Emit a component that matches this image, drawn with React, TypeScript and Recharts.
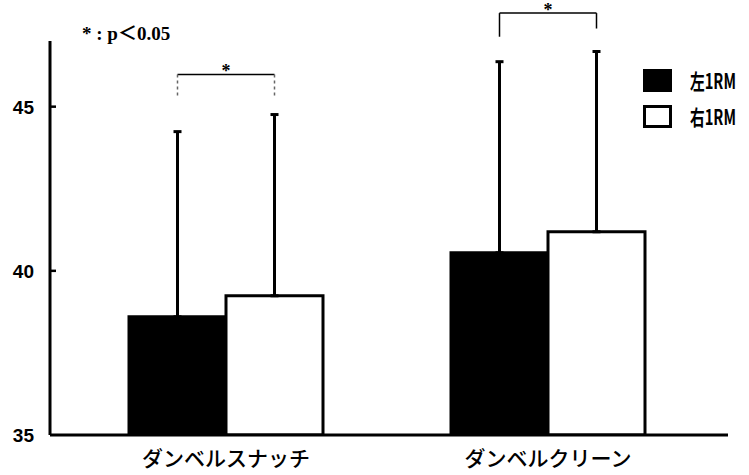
import { Bar, BarChart, ErrorBar, XAxis, YAxis } from "recharts";

const categories = ["ダンベルスナッチ", "ダンベルクリーン"];
const leftRM = [38.6, 40.55];
const rightRM = [39.24, 41.19];
const leftSD = [5.64, 5.82];
const rightSD = [5.52, 5.49];
const yTicks = [35, 40, 45];

// significance brackets: bar height, leg ends, dashed legs or not
const sigTop = [45.98, 47.85];
const sigLegLeft = [45.27, 47.13];
const sigLegRight = [45.27, 47.38];
const sigDashed = [true, false];

const seriesNames = ["左1RM", "右1RM"];
const Y_MIN = 35;
const Y_AXIS_W = 50;

const data = categories.map((name, i) => ({
	name,
	left: leftRM[i],
	right: rightRM[i],
	leftErr: [0, leftSD[i]],
	rightErr: [0, rightSD[i]],
}));

const YTick = (props: any) => {
	const { x, y, payload } = props;
	return (
		<text
			x={x}
			y={y}
			dy="0.36em"
			textAnchor="end"
			fontFamily="Liberation Sans, Arial, sans-serif"
			fontWeight="bold"
			fontSize={19}
			fill="#000"
		>
			{payload.value}
		</text>
	);
};

const XTick = (props: any) => {
	const { x, y, payload } = props;
	return (
		<text
			x={x}
			y={y}
			dy="0.8em"
			textAnchor="middle"
			fontFamily="Noto Sans CJK JP, sans-serif"
			fontWeight={500}
			fontSize={21}
			fill="#000"
		>
			{payload.value}
		</text>
	);
};

// bracket drawn from the right bar's geometry, scaled by its own value;
// the first one also adds the inward tick marks on the value axis
const renderBracket = (props: any) => {
	const vb = props.viewBox ?? props;
	const { x, y, width, height } = vb;
	const i = props.index;
	if (i == null || x == null) return null;
	const unit = height / (rightRM[i] - Y_MIN);
	const base = y + height;
	const toY = (v: number) => base - (v - Y_MIN) * unit;
	const xr = x + width / 2;
	const xl = xr - width;
	const top = toY(sigTop[i]);
	const dash = sigDashed[i] ? "3 3" : undefined;
	const legColor = sigDashed[i] ? "#666" : "#000";
	return (
		<g key={`sig-${i}`}>
			{i === 0 &&
				yTicks.slice(1).map((t) => (
					<path key={t} d={`M${Y_AXIS_W},${toY(t)}h6`} stroke="#000" strokeWidth={2.5} fill="none" />
				))}
			<line x1={xl} x2={xr} y1={top} y2={top} stroke="#000" strokeWidth={1.5} />
			<line x1={xl} x2={xl} y1={top} y2={toY(sigLegLeft[i])} stroke={legColor} strokeWidth={1.5} strokeDasharray={dash} />
			<line x1={xr} x2={xr} y1={top} y2={toY(sigLegRight[i])} stroke={legColor} strokeWidth={1.5} strokeDasharray={dash} />
			<text
				x={(xl + xr) / 2}
				y={top + 3}
				textAnchor="middle"
				fontFamily="Liberation Serif, serif"
				fontWeight="bold"
				fontSize={18}
				fill="#000"
			>
				*
			</text>
		</g>
	);
};

const LegendBox = () => (
	<div
		style={{
			position: "absolute",
			left: 643,
			top: 69,
			display: "flex",
			flexDirection: "column",
			gap: 13,
			whiteSpace: "nowrap",
		}}
	>
		{seriesNames.map((name, i) => (
			<div key={name} style={{ display: "flex", alignItems: "center", height: 23 }}>
				<span
					style={{
						display: "inline-block",
						width: 29,
						height: 23,
						boxSizing: "border-box",
						background: i === 0 ? "#000" : "#fff",
						border: "3px solid #000",
					}}
				/>
				<span
					style={{
						display: "inline-block",
						marginLeft: 18,
						fontFamily: "Noto Sans CJK JP, sans-serif",
						fontWeight: 700,
						fontSize: 21,
						lineHeight: "23px",
						transform: "scaleX(0.7)",
						transformOrigin: "left center",
						color: "#000",
					}}
				>
					{name}
				</span>
			</div>
		))}
	</div>
);

export default function App() {
	return (
		<div style={{ position: "absolute", left: 0, top: 0, width: 749, height: 475, background: "#fff" }}>
			<BarChart
				width={749}
				height={475}
				data={data}
				margin={{ top: 41, right: 21, bottom: 0, left: 0 }}
				barGap={0}
				barSize={97}
			>
				<XAxis
					dataKey="name"
					height={40}
					padding={{ left: 15, right: 19 }}
					axisLine={{ stroke: "#000", strokeWidth: 3 }}
					tickLine={false}
					tickSize={0}
					tickMargin={14}
					tick={<XTick />}
				/>
				<YAxis
					width={Y_AXIS_W}
					domain={[35, 47]}
					ticks={yTicks}
					allowDataOverflow
					axisLine={{ stroke: "#000", strokeWidth: 3 }}
					tickLine={false}
					tickSize={0}
					tickMargin={16}
					tick={<YTick />}
				/>
				<Bar dataKey="left" name={seriesNames[0]} fill="#000" stroke="#000" strokeWidth={3} isAnimationActive={false}>
					<ErrorBar dataKey="leftErr" direction="y" width={4} stroke="#000" strokeWidth={3} />
				</Bar>
				<Bar
					dataKey="right"
					name={seriesNames[1]}
					fill="#fff"
					stroke="#000"
					strokeWidth={3}
					isAnimationActive={false}
					label={renderBracket}
				>
					<ErrorBar dataKey="rightErr" direction="y" width={4} stroke="#000" strokeWidth={3} />
				</Bar>
			</BarChart>
			<div
				style={{
					position: "absolute",
					left: 82,
					top: 18,
					fontFamily: "Liberation Serif, Noto Sans CJK JP, serif",
					fontWeight: "bold",
					fontSize: 19,
					color: "#000",
					whiteSpace: "pre",
				}}
			>
				{"* : p＜0.05"}
			</div>
			<LegendBox />
		</div>
	);
}
